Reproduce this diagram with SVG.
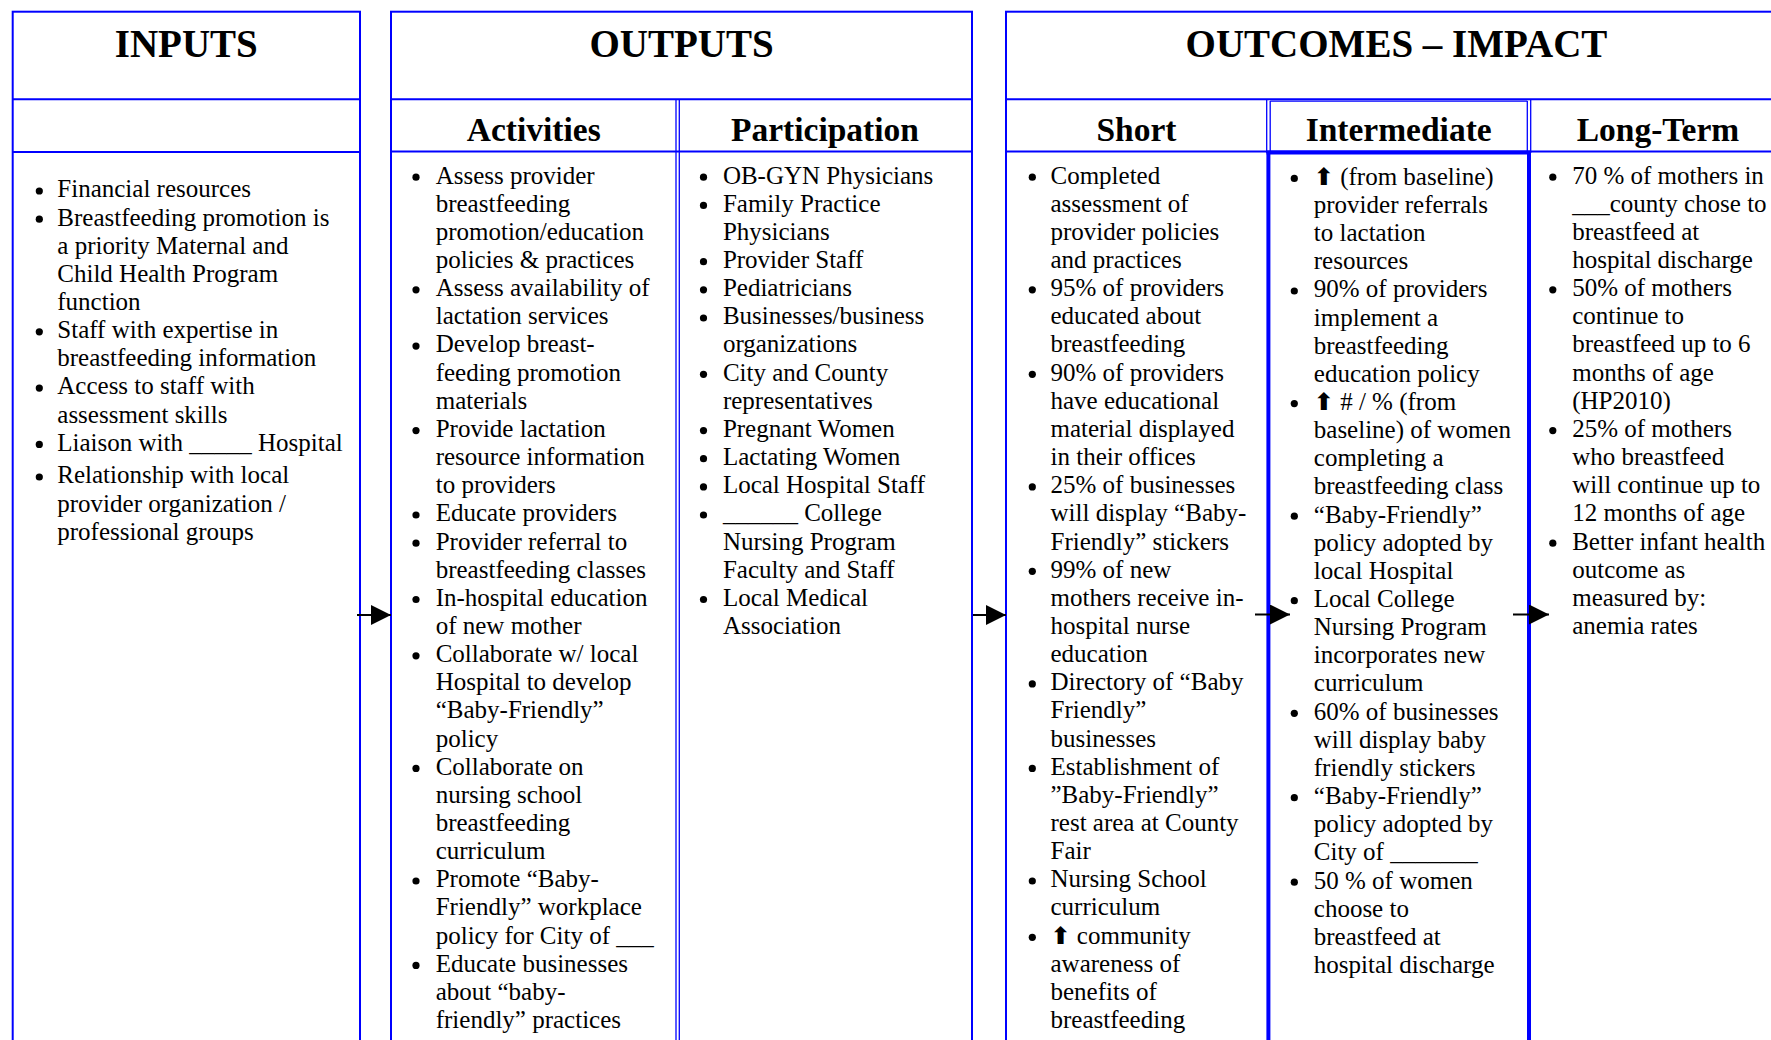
<svg xmlns="http://www.w3.org/2000/svg" width="1771" height="1040" viewBox="0 0 1771 1040">
<style>
.b{fill:none;stroke:#0000FF;stroke-width:2}
.l{stroke:#0000FF;stroke-width:2;fill:none}
.d{stroke:#0000FF;stroke-width:1.3;fill:none}
.k{stroke:#0000FF;stroke-width:4;fill:none}
.t{font-family:"Liberation Serif","Times New Roman",serif;font-size:25px;fill:#000}
.h1{font-family:"Liberation Serif","Times New Roman",serif;font-size:39px;font-weight:bold;text-anchor:middle;fill:#000}
.h2{font-family:"Liberation Serif","Times New Roman",serif;font-size:33.5px;font-weight:bold;text-anchor:middle;fill:#000}
.ar{font-family:"DejaVu Sans","Noto Sans CJK SC",sans-serif;font-weight:bold;font-size:24px}
.c{stroke:#000;stroke-width:1.8;fill:none}
.dots circle{fill:#000}
</style>
<defs>
<marker id="ah" markerUnits="userSpaceOnUse" markerWidth="20" markerHeight="20" refX="20" refY="10" orient="auto"><path d="M0,0 L20,10 L0,20 z" fill="#000"/></marker>
</defs>
<rect x="0" y="0" width="1771" height="1040" fill="#fff"/>

<g id="inputs">
<rect class="b" x="12.7" y="11.7" width="347.3" height="1060"/>
<line class="l" x1="12.7" y1="99.3" x2="360" y2="99.3"/>
<line class="l" x1="12.7" y1="152" x2="360" y2="152"/>
<text class="h1" x="186.3" y="57.3">INPUTS</text>
<g class="dots" transform="translate(39.3,-6.3)"><circle r="3.6" cy="197.3"/><circle r="3.6" cy="225.5"/><circle r="3.6" cy="338.1"/><circle r="3.6" cy="394.4"/><circle r="3.6" cy="450.7"/><circle r="3.6" cy="483.3"/></g>
<text class="t">
<tspan x="57.3" y="197.3">Financial resources</tspan>
<tspan x="57.3" y="225.5">Breastfeeding promotion is</tspan>
<tspan x="57.3" y="253.6">a priority Maternal and</tspan>
<tspan x="57.3" y="281.8">Child Health Program</tspan>
<tspan x="57.3" y="309.9">function</tspan>
<tspan x="57.3" y="338.1">Staff with expertise in</tspan>
<tspan x="57.3" y="366.2">breastfeeding information</tspan>
<tspan x="57.3" y="394.4">Access to staff with</tspan>
<tspan x="57.3" y="422.5">assessment skills</tspan>
<tspan x="57.3" y="450.7">Liaison with _____ Hospital</tspan>
<tspan x="57.3" y="483.3">Relationship with local</tspan>
<tspan x="57.3" y="511.5">provider organization /</tspan>
<tspan x="57.3" y="539.6">professional groups</tspan>
</text>
</g>

<g id="outputs">
<rect class="b" x="391" y="11.7" width="581" height="1060"/>
<line class="l" x1="391" y1="99.3" x2="972" y2="99.3"/>
<line class="l" x1="391" y1="151.5" x2="972" y2="151.5"/>
<line class="d" x1="676" y1="99.3" x2="676" y2="1060"/>
<line class="d" x1="679.3" y1="99.3" x2="679.3" y2="1060"/>
<text class="h1" x="681.5" y="57.3">OUTPUTS</text>
</g>

<g id="activities">
<text class="h2" x="533.7" y="140.5">Activities</text>
<g class="dots" transform="translate(416,-6.3)"><circle r="3.6" cy="183.5"/><circle r="3.6" cy="296.1"/><circle r="3.6" cy="352.4"/><circle r="3.6" cy="436.9"/><circle r="3.6" cy="521.3"/><circle r="3.6" cy="549.5"/><circle r="3.6" cy="605.8"/><circle r="3.6" cy="662.1"/><circle r="3.6" cy="774.7"/><circle r="3.6" cy="887.3"/><circle r="3.6" cy="971.7"/></g>
<text class="t">
<tspan x="435.7" y="183.5">Assess provider</tspan>
<tspan x="435.7" y="211.7">breastfeeding</tspan>
<tspan x="435.7" y="239.8">promotion/education</tspan>
<tspan x="435.7" y="268.0">policies &amp; practices</tspan>
<tspan x="435.7" y="296.1">Assess availability of</tspan>
<tspan x="435.7" y="324.3">lactation services</tspan>
<tspan x="435.7" y="352.4">Develop breast-</tspan>
<tspan x="435.7" y="380.6">feeding promotion</tspan>
<tspan x="435.7" y="408.7">materials</tspan>
<tspan x="435.7" y="436.9">Provide lactation</tspan>
<tspan x="435.7" y="465.0">resource information</tspan>
<tspan x="435.7" y="493.2">to providers</tspan>
<tspan x="435.7" y="521.3">Educate providers</tspan>
<tspan x="435.7" y="549.5">Provider referral to</tspan>
<tspan x="435.7" y="577.6">breastfeeding classes</tspan>
<tspan x="435.7" y="605.8">In-hospital education</tspan>
<tspan x="435.7" y="633.9">of new mother</tspan>
<tspan x="435.7" y="662.1">Collaborate w/ local</tspan>
<tspan x="435.7" y="690.2">Hospital to develop</tspan>
<tspan x="435.7" y="718.4">“Baby-Friendly”</tspan>
<tspan x="435.7" y="746.5">policy</tspan>
<tspan x="435.7" y="774.7">Collaborate on</tspan>
<tspan x="435.7" y="802.8">nursing school</tspan>
<tspan x="435.7" y="831.0">breastfeeding</tspan>
<tspan x="435.7" y="859.1">curriculum</tspan>
<tspan x="435.7" y="887.3">Promote “Baby-</tspan>
<tspan x="435.7" y="915.4">Friendly” workplace</tspan>
<tspan x="435.7" y="943.6">policy for City of ___</tspan>
<tspan x="435.7" y="971.7">Educate businesses</tspan>
<tspan x="435.7" y="999.9">about “baby-</tspan>
<tspan x="435.7" y="1028.0">friendly” practices</tspan>
</text>
</g>

<g id="participation">
<text class="h2" x="825" y="140.5">Participation</text>
<g class="dots" transform="translate(703.5,-6.3)"><circle r="3.6" cy="183.5"/><circle r="3.6" cy="211.7"/><circle r="3.6" cy="268.0"/><circle r="3.6" cy="296.1"/><circle r="3.6" cy="324.3"/><circle r="3.6" cy="380.6"/><circle r="3.6" cy="436.9"/><circle r="3.6" cy="465.0"/><circle r="3.6" cy="493.2"/><circle r="3.6" cy="521.3"/><circle r="3.6" cy="605.8"/></g>
<text class="t">
<tspan x="722.9" y="183.5">OB-GYN Physicians</tspan>
<tspan x="722.9" y="211.7">Family Practice</tspan>
<tspan x="722.9" y="239.8">Physicians</tspan>
<tspan x="722.9" y="268.0">Provider Staff</tspan>
<tspan x="722.9" y="296.1">Pediatricians</tspan>
<tspan x="722.9" y="324.3">Businesses/business</tspan>
<tspan x="722.9" y="352.4">organizations</tspan>
<tspan x="722.9" y="380.6">City and County</tspan>
<tspan x="722.9" y="408.7">representatives</tspan>
<tspan x="722.9" y="436.9">Pregnant Women</tspan>
<tspan x="722.9" y="465.0">Lactating Women</tspan>
<tspan x="722.9" y="493.2">Local Hospital Staff</tspan>
<tspan x="722.9" y="521.3">______ College</tspan>
<tspan x="722.9" y="549.5">Nursing Program</tspan>
<tspan x="722.9" y="577.6">Faculty and Staff</tspan>
<tspan x="722.9" y="605.8">Local Medical</tspan>
<tspan x="722.9" y="633.9">Association</tspan>
</text>
</g>

<g id="outcomes">
<rect class="b" x="1006" y="11.7" width="781" height="1060"/>
<line class="l" x1="1006" y1="99.3" x2="1787" y2="99.3"/>
<line class="l" x1="1006" y1="151.5" x2="1787" y2="151.5"/>
<text class="h1" x="1396.5" y="57.3">OUTCOMES – IMPACT</text>
<line class="d" x1="1266.7" y1="99.3" x2="1266.7" y2="153"/>
<line class="d" x1="1270.2" y1="101" x2="1270.2" y2="153"/>
<line class="d" x1="1527.3" y1="101" x2="1527.3" y2="153"/>
<line class="d" x1="1530.7" y1="99.3" x2="1530.7" y2="153"/>
<line class="d" x1="1270.2" y1="101.2" x2="1527.3" y2="101.2"/>
<line class="k" x1="1266.5" y1="152.5" x2="1531" y2="152.5"/>
<line class="k" x1="1268.4" y1="151" x2="1268.4" y2="1060"/>
<line class="k" x1="1529" y1="151" x2="1529" y2="1060"/>
</g>

<g id="short">
<text class="h2" x="1136.5" y="140.5">Short</text>
<g class="dots" transform="translate(1032.3,-6.3)"><circle r="3.6" cy="183.5"/><circle r="3.6" cy="296.1"/><circle r="3.6" cy="380.6"/><circle r="3.6" cy="493.2"/><circle r="3.6" cy="577.6"/><circle r="3.6" cy="690.2"/><circle r="3.6" cy="774.7"/><circle r="3.6" cy="887.3"/><circle r="3.6" cy="943.6"/></g>
<text class="t">
<tspan x="1050.5" y="183.5">Completed</tspan>
<tspan x="1050.5" y="211.7">assessment of</tspan>
<tspan x="1050.5" y="239.8">provider policies</tspan>
<tspan x="1050.5" y="268.0">and practices</tspan>
<tspan x="1050.5" y="296.1">95% of providers</tspan>
<tspan x="1050.5" y="324.3">educated about</tspan>
<tspan x="1050.5" y="352.4">breastfeeding</tspan>
<tspan x="1050.5" y="380.6">90% of providers</tspan>
<tspan x="1050.5" y="408.7">have educational</tspan>
<tspan x="1050.5" y="436.9">material displayed</tspan>
<tspan x="1050.5" y="465.0">in their offices</tspan>
<tspan x="1050.5" y="493.2">25% of businesses</tspan>
<tspan x="1050.5" y="521.3">will display “Baby-</tspan>
<tspan x="1050.5" y="549.5">Friendly” stickers</tspan>
<tspan x="1050.5" y="577.6">99% of new</tspan>
<tspan x="1050.5" y="605.8">mothers receive in-</tspan>
<tspan x="1050.5" y="633.9">hospital nurse</tspan>
<tspan x="1050.5" y="662.1">education</tspan>
<tspan x="1050.5" y="690.2">Directory of “Baby</tspan>
<tspan x="1050.5" y="718.4">Friendly”</tspan>
<tspan x="1050.5" y="746.5">businesses</tspan>
<tspan x="1050.5" y="774.7">Establishment of</tspan>
<tspan x="1050.5" y="802.8">”Baby-Friendly”</tspan>
<tspan x="1050.5" y="831.0">rest area at County</tspan>
<tspan x="1050.5" y="859.1">Fair</tspan>
<tspan x="1050.5" y="887.3">Nursing School</tspan>
<tspan x="1050.5" y="915.4">curriculum</tspan>
<tspan x="1050.5" y="943.6"><tspan class="ar">⬆</tspan> community</tspan>
<tspan x="1050.5" y="971.7">awareness of</tspan>
<tspan x="1050.5" y="999.9">benefits of</tspan>
<tspan x="1050.5" y="1028.0">breastfeeding</tspan>
</text>
</g>

<g id="intermediate">
<text class="h2" x="1398.7" y="140.5">Intermediate</text>
<g class="dots" transform="translate(1294.3,-6.3)"><circle r="3.6" cy="184.7"/><circle r="3.6" cy="297.3"/><circle r="3.6" cy="409.9"/><circle r="3.6" cy="522.5"/><circle r="3.6" cy="607.0"/><circle r="3.6" cy="719.6"/><circle r="3.6" cy="804.0"/><circle r="3.6" cy="888.5"/></g>
<text class="t">
<tspan x="1313.8" y="184.7"><tspan class="ar">⬆</tspan> (from baseline)</tspan>
<tspan x="1313.8" y="212.9">provider referrals</tspan>
<tspan x="1313.8" y="241.0">to lactation</tspan>
<tspan x="1313.8" y="269.2">resources</tspan>
<tspan x="1313.8" y="297.3">90% of providers</tspan>
<tspan x="1313.8" y="325.5">implement a</tspan>
<tspan x="1313.8" y="353.6">breastfeeding</tspan>
<tspan x="1313.8" y="381.8">education policy</tspan>
<tspan x="1313.8" y="409.9"><tspan class="ar">⬆</tspan> # / % (from</tspan>
<tspan x="1313.8" y="438.1">baseline) of women</tspan>
<tspan x="1313.8" y="466.2">completing a</tspan>
<tspan x="1313.8" y="494.4">breastfeeding class</tspan>
<tspan x="1313.8" y="522.5">“Baby-Friendly”</tspan>
<tspan x="1313.8" y="550.7">policy adopted by</tspan>
<tspan x="1313.8" y="578.8">local Hospital</tspan>
<tspan x="1313.8" y="607.0">Local College</tspan>
<tspan x="1313.8" y="635.1">Nursing Program</tspan>
<tspan x="1313.8" y="663.3">incorporates new</tspan>
<tspan x="1313.8" y="691.4">curriculum</tspan>
<tspan x="1313.8" y="719.6">60% of businesses</tspan>
<tspan x="1313.8" y="747.7">will display baby</tspan>
<tspan x="1313.8" y="775.9">friendly stickers</tspan>
<tspan x="1313.8" y="804.0">“Baby-Friendly”</tspan>
<tspan x="1313.8" y="832.2">policy adopted by</tspan>
<tspan x="1313.8" y="860.3">City of _______</tspan>
<tspan x="1313.8" y="888.5">50 % of women</tspan>
<tspan x="1313.8" y="916.6">choose to</tspan>
<tspan x="1313.8" y="944.8">breastfeed at</tspan>
<tspan x="1313.8" y="972.9">hospital discharge</tspan>
</text>
</g>

<g id="long-term">
<text class="h2" x="1658" y="140.5">Long-Term</text>
<g class="dots" transform="translate(1552.8,-6.3)"><circle r="3.6" cy="183.5"/><circle r="3.6" cy="296.1"/><circle r="3.6" cy="436.9"/><circle r="3.6" cy="549.5"/></g>
<text class="t">
<tspan x="1572.2" y="183.5">70 % of mothers in</tspan>
<tspan x="1572.2" y="211.7">___county chose to</tspan>
<tspan x="1572.2" y="239.8">breastfeed at</tspan>
<tspan x="1572.2" y="268.0">hospital discharge</tspan>
<tspan x="1572.2" y="296.1">50% of mothers</tspan>
<tspan x="1572.2" y="324.3">continue to</tspan>
<tspan x="1572.2" y="352.4">breastfeed up to 6</tspan>
<tspan x="1572.2" y="380.6">months of age</tspan>
<tspan x="1572.2" y="408.7">(HP2010)</tspan>
<tspan x="1572.2" y="436.9">25% of mothers</tspan>
<tspan x="1572.2" y="465.0">who breastfeed</tspan>
<tspan x="1572.2" y="493.2">will continue up to</tspan>
<tspan x="1572.2" y="521.3">12 months of age</tspan>
<tspan x="1572.2" y="549.5">Better infant health</tspan>
<tspan x="1572.2" y="577.6">outcome as</tspan>
<tspan x="1572.2" y="605.8">measured by:</tspan>
<tspan x="1572.2" y="633.9">anemia rates</tspan>
</text>
</g>

<g id="connectors">
<line class="c" x1="357" y1="615" x2="391" y2="615" marker-end="url(#ah)"/>
<line class="c" x1="973" y1="615" x2="1006" y2="615" marker-end="url(#ah)"/>
<line class="c" x1="1255" y1="614.5" x2="1290" y2="614.5" marker-end="url(#ah)"/>
<line class="c" x1="1513" y1="614.5" x2="1549" y2="614.5" marker-end="url(#ah)"/>
</g>
</svg>
